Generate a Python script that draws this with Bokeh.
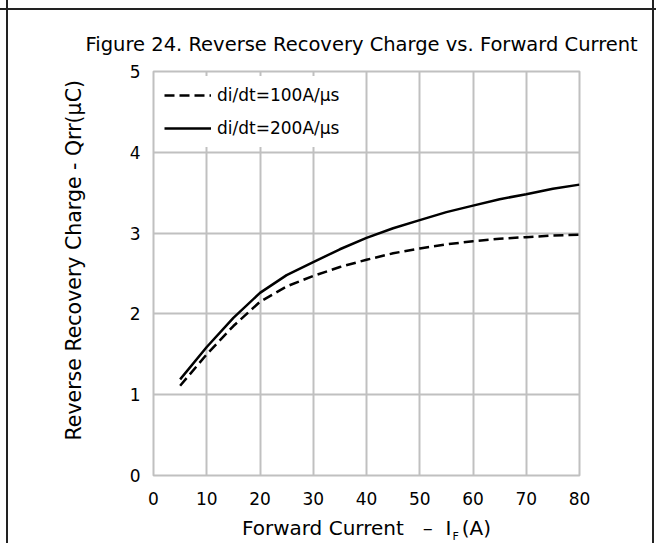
from bokeh.plotting import figure
from bokeh.models import Range1d, FixedTicker, Title
from bokeh.embed import file_html
from bokeh.resources import INLINE

# Forward current I_F (A)
current = [5, 10, 15, 20, 25, 30, 35, 40, 45, 50, 55, 60, 65, 70, 75, 80]
# Reverse recovery charge Qrr (uC)
qrr_100 = [1.11, 1.50, 1.85, 2.15, 2.34, 2.47, 2.58, 2.67, 2.75, 2.81, 2.86, 2.90, 2.93, 2.95, 2.97, 2.98]
qrr_200 = [1.19, 1.59, 1.95, 2.26, 2.48, 2.64, 2.80, 2.94, 3.06, 3.16, 3.26, 3.34, 3.42, 3.48, 3.55, 3.60]

x_ticks = [0, 10, 20, 30, 40, 50, 60, 70, 80]
y_ticks = [0, 1, 2, 3, 4, 5]

NBSP = "\u00a0"
title_text = "Figure 24. Reverse Recovery Charge vs. Forward Current"
y_title = "Reverse Recovery Charge - Qrr(\u03bcC)"
x_title = "Forward Current" + NBSP * 3 + "\u2013" + NBSP * 2 + "I" + NBSP + "\u2009" + "(A)"
x_title_sub = "F"
label_100 = "di/dt=100A/\u03bcs"
label_200 = "di/dt=200A/\u03bcs"

FONT = "DejaVu Sans"
GRID = "#c0c0c0"
RULE = "#222222"

# thin rules of the surrounding table cell, drawn behind the (transparent) canvas
cell_rules = (
    f"linear-gradient({RULE},{RULE}) 6px 0 / 2px 100% no-repeat, "
    f"linear-gradient({RULE},{RULE}) 652px 0 / 2px 100% no-repeat, "
    f"linear-gradient({RULE},{RULE}) 0 8px / 100% 2px no-repeat, white"
)

p = figure(width=656, height=543, output_backend="svg", toolbar_location=None,
           x_range=Range1d(0, 80), y_range=Range1d(0, 5),
           min_border_left=153, min_border_right=77, min_border_top=71, min_border_bottom=68,
           styles={"background": cell_rules})
p.background_fill_color = "white"
p.border_fill_alpha = 0
p.outline_line_color = GRID
p.outline_line_width = 2

# chart title
p.title.text = title_text
p.title.align = "left"
p.title.offset = -68
p.title.vertical_align = "bottom"
p.title.standoff = 31
p.title.text_font = FONT
p.title.text_font_size = "19.5px"
p.title.text_font_style = "normal"
p.title.text_color = "black"

for g in (p.xgrid, p.ygrid):
    g.grid_line_color = GRID
    g.grid_line_width = 2
p.xaxis.ticker = FixedTicker(ticks=x_ticks)
p.yaxis.ticker = FixedTicker(ticks=y_ticks)
for ax in (p.xaxis, p.yaxis):
    ax.axis_line_color = None
    ax.major_tick_line_color = None
    ax.minor_tick_line_color = None
    ax.major_label_text_font = FONT
    ax.major_label_text_font_size = "17px"
    ax.major_label_text_color = "black"
p.yaxis.major_label_standoff = 7
p.xaxis.major_label_standoff = 10

p.xaxis.axis_label = x_title
p.xaxis.axis_label_text_font = FONT
p.xaxis.axis_label_text_font_size = "20px"
p.xaxis.axis_label_text_font_style = "normal"
p.xaxis.axis_label_text_color = "black"
p.xaxis.axis_label_standoff = 8

# subscript of I_F, tucked into the gap left in the axis title
p.add_layout(Title(text=x_title_sub, align="left", offset=299, vertical_align="top",
                   standoff=-25, text_font=FONT, text_font_size="11px",
                   text_font_style="normal", text_color="black"), "below")

# vertical axis title
p.add_layout(Title(text=y_title, align="left", offset=35, vertical_align="bottom",
                   standoff=82, text_font=FONT, text_font_size="20.5px",
                   text_font_style="normal", text_color="black"), "left")

p.line(current, qrr_100, line_color="black", line_width=2.5, line_dash="10 5",
       line_join="round", legend_label=label_100)
p.line(current, qrr_200, line_color="black", line_width=2.5, line_join="round",
       legend_label=label_200)

lg = p.legend[0]
lg.location = "top_left"
lg.margin = 5
lg.padding = 6
lg.spacing = 7
lg.glyph_width = 47
lg.glyph_height = 26
lg.label_height = 26
lg.label_standoff = 6
lg.label_text_font = FONT
lg.label_text_font_size = "17px"
lg.label_text_color = "black"
lg.background_fill_color = "white"
lg.background_fill_alpha = 1
lg.border_line_alpha = 0

open("out.html", "w").write(file_html(p, INLINE))
